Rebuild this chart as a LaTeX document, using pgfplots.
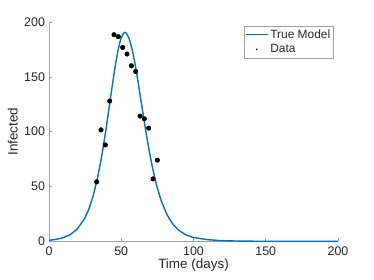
\documentclass[border=0pt]{standalone}
\usepackage{pgfplots}
\pgfplotsset{compat=1.18}
\usepackage{fontspec}
\setmainfont{Liberation Sans}
\definecolor{mblue}{RGB}{0,114,189}
\definecolor{mtext}{RGB}{38,38,38}
\definecolor{maxis}{RGB}{160,160,160}
\begin{document}
\begin{tikzpicture}
\useasboundingbox (0,0) rectangle (374bp,280bp);
\begin{axis}[
  at={(49bp,38.7bp)}, anchor=south west,
  scale only axis, width=289bp, height=219.3bp,
  xmin=0, xmax=200, ymin=0, ymax=200,
  xtick={0,50,...,200}, ytick={0,50,...,200},
  axis lines=left,
  axis line style={-, draw=maxis, line width=0.6bp},
  tick style={draw=maxis, line width=0.6bp},
  tick align=inside, major tick length=3bp,
  /pgf/number format/assume math mode=true,
  ticklabel style={font=\fontsize{12.5}{14}\selectfont, text=mtext},
  xticklabel style={yshift=-1.5bp},
  yticklabel style={xshift=-0.5bp},
  label style={font=\fontsize{13.5}{15}\selectfont, text=mtext},
  xlabel={Time (days)}, ylabel={Infected},
  xlabel style={yshift=3bp},
  ylabel style={yshift=-0.5bp},
  legend style={at={(1,1)}, anchor=north east, xshift=-4.5bp, yshift=-3.7bp,
    draw=maxis, font=\fontsize{12}{13}\selectfont, text=mtext,
    inner xsep=1bp, inner ysep=1.5bp, row sep=1bp, legend cell align=left},
  clip=false,
]
\addplot[mblue, line width=1.4bp,
  legend image code/.code={\draw[mblue, line width=1.2bp] (0bp,0bp) -- (22bp,0bp);}] coordinates {
(0,0.85) (4.5,1.67) (9.5,3.16) (14.5,5.93) (19.5,11.07) (24.5,20.4)
(27.5,29.1) (30.5,41.1) (33.5,57.2) (36.5,77.7) (39.5,102.5) (41.5,120.8)
(43.5,139.4) (45.5,157.1) (47.5,172.5) (49.5,183.8) (51.5,189.7) (52.5,190.5)
(53.5,189.9) (55.5,184.9) (57.5,175.3) (59.5,162.2) (61.5,146.6) (63.5,129.7)
(65.5,112.8) (67.5,96.5) (69.5,81.4) (71.5,67.9) (74.5,50.8) (77.5,37.5)
(81.5,24.6) (85.5,16.0) (89.5,10.4) (94.5,6.0) (99.5,3.6) (109.5,1.5)
(119.5,0.6) (129.5,0.25) (139.5,0.1) (150,0.04) (175,0.01) (200,0)
};
\addlegendentry{True Model}
\addplot[only marks, mark=*, mark size=2.3bp, black,
  legend image code/.code={\fill[black] (11bp,0bp) circle (0.6bp);}] coordinates {
(33,54.2) (36,101.6) (39,87.9) (42,127.9) (45,188.4) (48,186.6) (51,176.8)
(54,170.8) (57,160.1) (60,154.9) (63,114.2) (66,111.7) (69,103.2) (72,56.9) (75,74)
};
\addlegendentry{Data}
\end{axis}
\end{tikzpicture}
\end{document}
